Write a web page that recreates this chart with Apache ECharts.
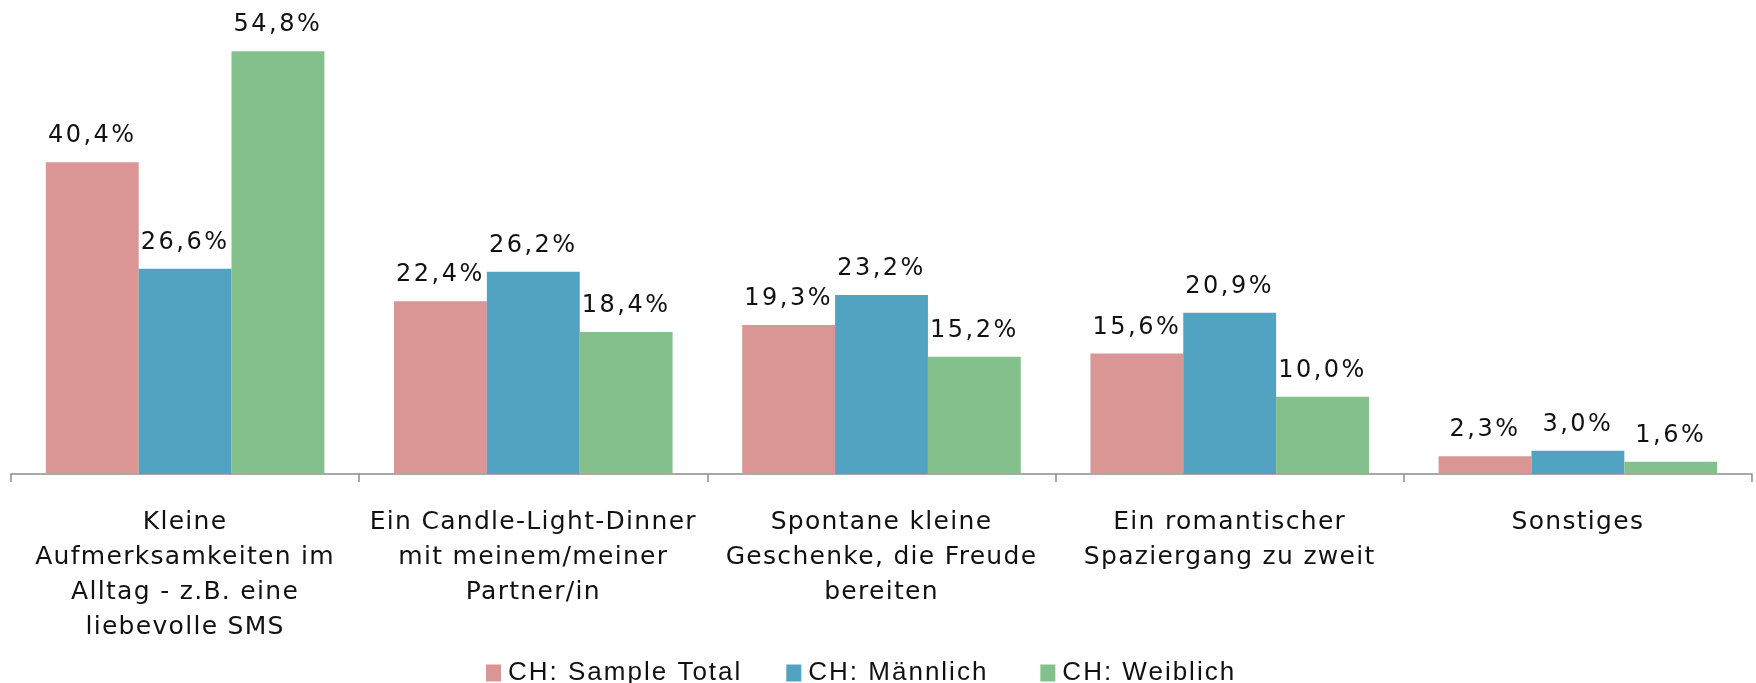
<!DOCTYPE html>
<html><head><meta charset="utf-8">
<script src="https://cdn.jsdelivr.net/npm/echarts@6/dist/echarts.min.js"></script>
<style>html,body{margin:0;padding:0;background:#fff}#c{width:1756px;height:683px}</style>
</head><body><div id="c"></div>
<script>
const categories = [
  "Kleine\nAufmerksamkeiten im\nAlltag - z.B. eine\nliebevolle SMS",
  "Ein Candle-Light-Dinner\nmit meinem/meiner\nPartner/in",
  "Spontane kleine\nGeschenke, die Freude\nbereiten",
  "Ein romantischer\nSpaziergang zu zweit",
  "Sonstiges"
];
const seriesNames = ["CH: Sample Total", "CH: Männlich", "CH: Weiblich"];
const sampleTotal = [40.4, 22.4, 19.3, 15.6, 2.3];
const maennlich = [26.6, 26.2, 23.2, 20.9, 3.0];
const weiblich = [54.8, 18.4, 15.2, 10.0, 1.6];
const colors = ["#D99694", "#52A2C1", "#84C08C"];

// emulate the wide letter spacing of the original rendering
(function () {
  const proto = CanvasRenderingContext2D.prototype;
  const orig = proto.fillText;
  proto.fillText = function (t, x, y, m) {
    if ('letterSpacing' in this) {
      const f = this.font || '';
      let s = '0px';
      if (/\b24px/.test(f)) s = '2.5px';
      else if (/\b25px/.test(f)) s = '1.3px';
      else if (/\b26px/.test(f)) s = '2px';
      this.letterSpacing = s;
    }
    return m === undefined ? orig.call(this, t, x, y) : orig.call(this, t, x, y, m);
  };
})();

const chart = echarts.init(document.getElementById('c'));
const fmt = p => p.value.toFixed(1).replace('.', ',') + '%';
const mk = (name, data, color) => ({
  name, type: 'bar', data, barGap: '0%', barCategoryGap: '20%',
  itemStyle: { color },
  label: { show: true, position: 'top', distance: 14, formatter: fmt,
    fontFamily: 'DejaVu Sans', fontSize: 24, color: '#111' }
});
chart.setOption({
  animation: false,
  grid: { left: 11, right: 4, top: 11, bottom: 209 },
  legend: {
    data: seriesNames, top: 655, left: 481, icon: 'rect',
    itemWidth: 15, itemHeight: 17, itemGap: 76,
    textStyle: { fontFamily: '"Liberation Sans", Arial, sans-serif', fontSize: 26, color: '#111', padding: [0, 0, 0, 2] }
  },
  xAxis: {
    type: 'category', data: categories,
    axisLine: { lineStyle: { color: '#8c8c8c', width: 1.5 } },
    axisTick: { show: true, length: 8, lineStyle: { color: '#8c8c8c', width: 1.5 } },
    axisLabel: { interval: 0, margin: 31, fontFamily: 'DejaVu Sans', fontSize: 25, lineHeight: 35, color: '#111', align: 'center' }
  },
  yAxis: { type: 'value', min: 0, max: 60, show: false, splitLine: { show: false } },
  series: [
    mk(seriesNames[0], sampleTotal, colors[0]),
    mk(seriesNames[1], maennlich, colors[1]),
    mk(seriesNames[2], weiblich, colors[2])
  ]
});
</script></body></html>
